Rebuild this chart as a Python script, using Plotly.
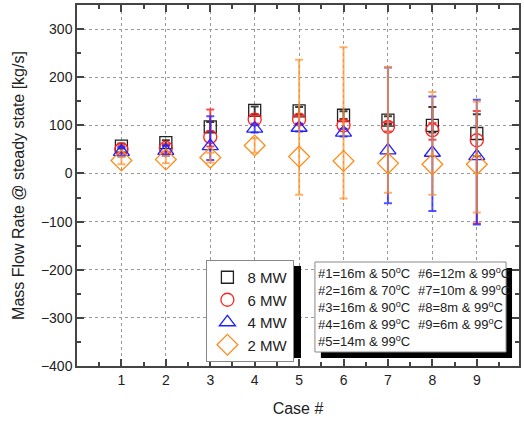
import plotly.graph_objects as go

cases = [1, 2, 3, 4, 5, 6, 7, 8, 9]
series_names = ["8 MW", "6 MW", "4 MW", "2 MW"]

mw8 = [57, 64, 97, 131, 130, 121, 111, 100, 83]
mw8_plus = [5, 5, 10, 8, 8, 8, 8, 38, 40]
mw8_minus = [5, 5, 10, 8, 8, 8, 8, 15, 47]

mw6 = [50, 53, 76, 112, 112, 100, 97, 90, 69]
mw6_plus = [8, 8, 57, 8, 8, 8, 10, 15, 61]
mw6_minus = [8, 8, 20, 8, 8, 8, 10, 20, 173]

mw4 = [45, 47, 57, 93, 95, 85, 48, 43, 36]
mw4_plus = [10, 10, 62, 8, 8, 8, 172, 117, 117]
mw4_minus = [10, 10, 29, 8, 8, 8, 110, 121, 142]

mw2 = [27, 29, 33, 58, 35, 26, 21, 19, 19]
mw2_plus = [8, 8, 10, 15, 201, 236, 200, 150, 130]
mw2_minus = [8, 8, 10, 15, 79, 78, 61, 63, 100]

case_labels_left = ["#1=16m & 50<sup>o</sup>C", "#2=16m & 70<sup>o</sup>C",
                    "#3=16m & 90<sup>o</sup>C", "#4=16m & 99<sup>o</sup>C",
                    "#5=14m & 99<sup>o</sup>C"]
case_labels_right = ["#6=12m & 99<sup>o</sup>C", "#7=10m & 99<sup>o</sup>C",
                     "#8=8m & 99<sup>o</sup>C", "#9=6m & 99<sup>o</sup>C"]

W, H = 524, 421
L, R, T, B = 77, 3, 5, 55
PW, PH = W - L - R, H - T - B

def px(x):
    return (x - L) / PW

def py(y):
    return (H - B - y) / PH

fig = go.Figure()

specs = [
    (mw8, mw8_plus, mw8_minus, "square-open", "#222222", "rgba(40,40,40,0.9)", 12),
    (mw6, mw6_plus, mw6_minus, "circle-open", "#FF2020", "rgba(255,40,40,0.85)", 13),
    (mw4, mw4_plus, mw4_minus, "triangle-up-open", "#2020FF", "rgba(40,40,255,0.8)", 14),
    (mw2, mw2_plus, mw2_minus, "diamond-open", "#FF8C1A", "rgba(255,150,50,0.75)", 16),
]
for name, (vals, ep, em, sym, col, ecol, size) in zip(series_names, specs):
    fig.add_trace(go.Scatter(
        x=cases, y=vals, mode="markers", name=name,
        marker=dict(symbol=sym, size=size, color=col, line=dict(width=1.3, color=col)),
        error_y=dict(type="data", symmetric=False, array=ep, arrayminus=em,
                     color=ecol, thickness=2, width=4),
    ))

# legend shadow
fig.add_shape(type="rect", xref="paper", yref="paper",
              x0=px(213), x1=px(302), y0=py(358), y1=py(266),
              fillcolor="black", line=dict(width=0), layer="above")
# text box shadow and box
fig.add_shape(type="rect", xref="paper", yref="paper",
              x0=px(322), x1=px(514), y0=py(358), y1=py(268),
              fillcolor="black", line=dict(width=0), layer="above")
fig.add_shape(type="rect", xref="paper", yref="paper",
              x0=px(316), x1=px(508), y0=py(352), y1=py(262),
              fillcolor="white", line=dict(width=1, color="#888888"), layer="above")

fig.add_annotation(xref="paper", yref="paper", x=px(317), y=py(263),
                   xanchor="left", yanchor="top", align="left", showarrow=False,
                   text="<br>".join(case_labels_left),
                   font=dict(family="Liberation Sans, Arial", size=13, color="#222222"))
fig.add_annotation(xref="paper", yref="paper", x=px(418), y=py(263),
                   xanchor="left", yanchor="top", align="left", showarrow=False,
                   text="<br>".join(case_labels_right),
                   font=dict(family="Liberation Sans, Arial", size=13, color="#222222"))

axis_common = dict(
    showline=True, linecolor="#444444", linewidth=1.5, mirror="allticks",
    ticks="inside", ticklen=7, tickwidth=1.5, tickcolor="#444444",
    showgrid=True, gridcolor="#999999", griddash="dot", gridwidth=1,
    zeroline=False,
    tickfont=dict(family="Liberation Sans, Arial", size=14, color="#222222"),
)

fig.update_layout(
    width=W, height=H,
    margin=dict(l=L, r=R, t=T, b=B),
    plot_bgcolor="white", paper_bgcolor="white",
    font=dict(family="Liberation Sans, Arial", color="#222222"),
    xaxis=dict(range=[0, 9.95], tickmode="array", tickvals=cases,
               minor=dict(dtick=0.5, tick0=0, ticks="inside", ticklen=4, tickcolor="#444444", showgrid=False),
               title=dict(text="Case #", font=dict(size=16), standoff=16),
               **axis_common),
    yaxis=dict(range=[-400, 350], tick0=0, dtick=100,
               minor=dict(dtick=50, ticks="inside", ticklen=4, tickcolor="#444444", showgrid=False),
               title=dict(text="Mass Flow Rate @ steady state [kg/s]", font=dict(size=16), standoff=12),
               **axis_common),
    legend=dict(x=px(207), y=py(260), xanchor="left", yanchor="top",
                bgcolor="white", bordercolor="#888888", borderwidth=1,
                font=dict(family="Liberation Sans, Arial", size=15, color="#222222"),
                itemwidth=30, tracegroupgap=0),
    showlegend=True,
)

fig.write_html("out.html")
